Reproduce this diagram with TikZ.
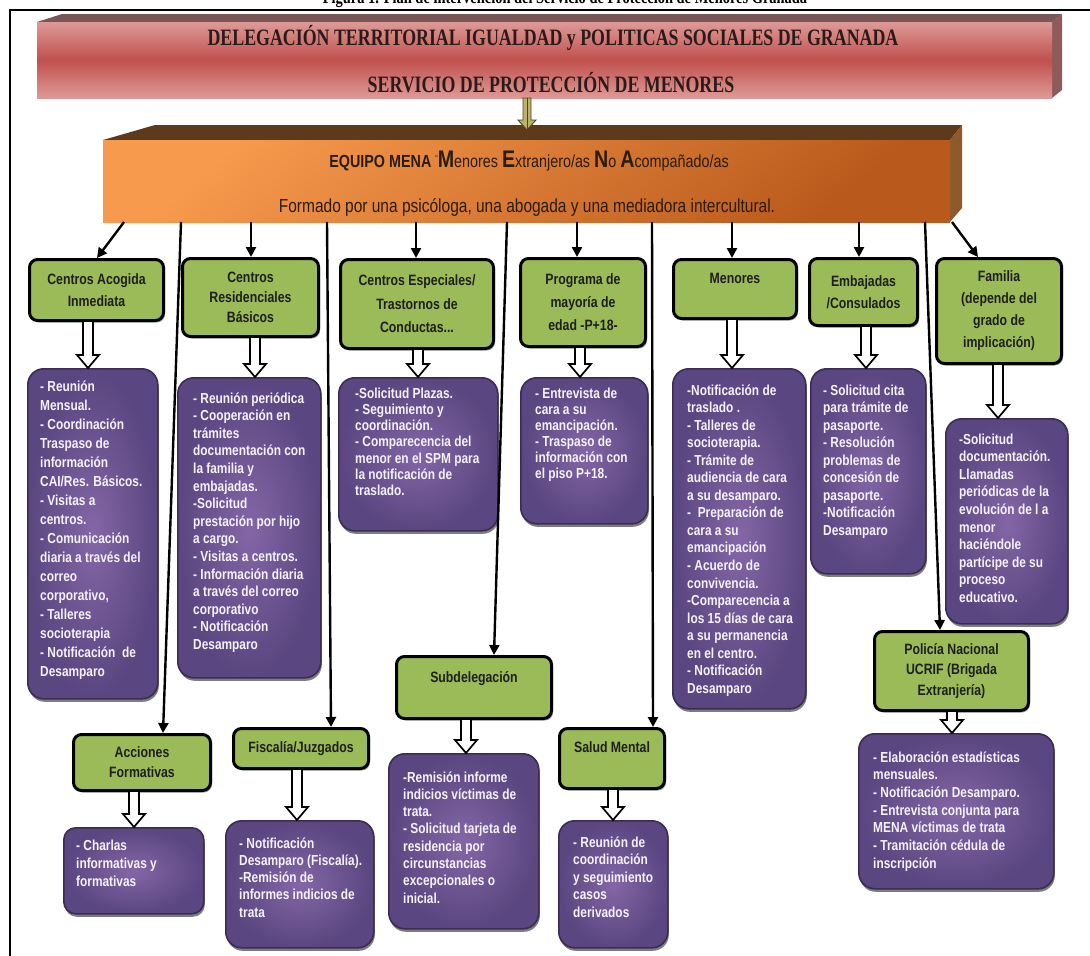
\documentclass[tikz,border=0pt]{standalone}
\usepackage{fontspec}
\setmainfont{Liberation Sans}[FakeStretch=0.82]
\newfontfamily\hdrfont{Liberation Serif}[FakeStretch=0.76]
\usetikzlibrary{shadows,arrows.meta,calc}
\definecolor{grn}{HTML}{9BBB59}
\definecolor{purl}{HTML}{8466A6}
\definecolor{purd}{HTML}{5A4680}
\definecolor{purb}{HTML}{3A2C52}
\definecolor{pinkl}{HTML}{DE9A98}
\definecolor{pinkd}{HTML}{C0504D}
\definecolor{pinktop}{HTML}{7A5656}
\definecolor{pinkside}{HTML}{8F5A5A}
\definecolor{orl}{HTML}{F79A4D}
\definecolor{ord}{HTML}{B95A1C}
\definecolor{ortop}{HTML}{5E3A1C}
\definecolor{orside}{HTML}{8E5A2B}
\definecolor{olv}{HTML}{BDB16C}
\definecolor{olvd}{HTML}{4D4620}
\definecolor{mtxt}{HTML}{2B1B10}
\definecolor{htxt}{HTML}{2A1A1A}
\definecolor{ptxt}{HTML}{F4F2F8}
\newcommand\ptx[2]{\parbox[t]{220pt}{\raggedright\baselineskip=#1pt #2}}
\newcommand\bigL[1]{{\fontsize{24}{24}\selectfont\bfseries #1}}
\newcommand\hollow[3]{%
  \draw[line width=1.7pt, fill=white] let \p1=(#1.south -| #3,0), \p2=(#2.north -| #3,0) in
  (\x1-5pt,\y1) -- (\x1-5pt,\y2+13pt) -- (\x1-11pt,\y2+13pt) -- (\x1,\y2) --
  (\x1+11pt,\y2+13pt) -- (\x1+5pt,\y2+13pt) -- (\x1+5pt,\y1);}
\tikzset{
  gbox/.style={draw=black, line width=3pt, fill=grn, rounded corners=8pt, align=center,
    text=black!88, font=\bfseries\fontsize{15}{22}\selectfont,
    drop shadow={shadow xshift=1.5pt, shadow yshift=-2pt, opacity=.35, fill=black}},
  pbox/.style={draw=purb, line width=1.6pt, rounded corners=16pt, shading=radial,
    inner color=purl, outer color=purd, inner sep=0pt,
    drop shadow={shadow xshift=1pt, shadow yshift=-3pt, opacity=.6, fill=black!85}},
  ptext/.style={text=ptxt, font=\bfseries\fontsize{14.5}{17}\selectfont, inner sep=0pt, anchor=base west},
  conn/.style={line width=2.4pt, -{Triangle[length=10pt,width=10pt]}},
  hdr/.style={text=htxt, font=\hdrfont\bfseries\fontsize{23.5}{25}\selectfont}
}
\begin{document}
\begin{tikzpicture}[x=1pt,y=-1pt]
\useasboundingbox (0,0) rectangle (1090,956);
% clipped caption
\begin{scope}
\clip (0,0) rectangle (1090,8);
\node[font=\hdrfont\bfseries\fontsize{19}{19}\selectfont, anchor=base, inner sep=0] (cap) at (565,3) {Figura 1. Plan de intervención del Servicio de Protección de Menores Granada};
\end{scope}
% frame
\draw[line width=1.2pt] (10,956) -- (10,10) -- (1090,10);
% pink 3D box
\fill[pinktop] (37,22) -- (62,14) -- (1062,14) -- (1052,22) -- cycle;
\fill[pinkside] (1052,22) -- (1062,14) -- (1062,90) -- (1052,98) -- cycle;
\node[top color=pinkl, bottom color=pinkl, middle color=pinkd, minimum width=1015pt, minimum height=76pt, inner sep=0pt, outer sep=0pt, anchor=north west] (dele) at (37,22) {};
\node[hdr] (h1) at (553,38) {DELEGACIÓN TERRITORIAL IGUALDAD y POLITICAS SOCIALES DE GRANADA};
\node[hdr] (h2) at (551,83) {SERVICIO DE PROTECCIÓN DE MENORES};
% orange 3D box
\fill[ortop] (103,140) -- (155,125) -- (962,125) -- (950,140) -- cycle;
\fill[orside] (950,140) -- (962,125) -- (962,208) -- (950,222) -- cycle;
\node[top color=orl, bottom color=ord, shading angle=40, minimum width=847pt, minimum height=82pt, inner sep=0pt, outer sep=0pt, anchor=north west] (mena) at (103,140) {};
\node[text=mtxt, font=\fontsize{17.5}{20}\selectfont] (m1) at (529,161) {{\bfseries EQUIPO MENA} \raisebox{6pt}{\fontsize{9}{9}\selectfont “}\bigL{M}enores \bigL{E}xtranjero/as \bigL{N}o \bigL{A}compañado/as};
\node[text=mtxt, font=\fontsize{18.9}{21}\selectfont] (m2) at (527,207) {Formado por una psicóloga, una abogada y una mediadora intercultural.};
% olive arrow
\draw[olvd, fill=olv, line width=0.9pt] let \p1=(dele.south -| 527,0), \p2=(mena.north -| 527,0) in
  (\x1-4pt,\y1) -- (\x1-4pt,\y2+20pt) -- (\x1-9pt,\y2+20pt) -- (\x1,\y2+10pt) -- (\x1+9pt,\y2+20pt) -- (\x1+4pt,\y2+20pt) -- (\x1+4pt,\y1) -- cycle;
\draw[olvd, line width=0.8pt] (dele.south -| 527,0) -- (mena.north -| 527,0) ++(0,-12);
% green boxes
\node[gbox, minimum width=134pt, minimum height=61pt] (g1) at (96.5,290) {Centros Acogida\\Inmediata};
\node[gbox, minimum width=136pt, minimum height=78pt, font=\bfseries\fontsize{15}{20}\selectfont] (g2) at (250.5,297.5) {Centros\\Residenciales\\Básicos};
\node[gbox, minimum width=153pt, minimum height=89pt, font=\bfseries\fontsize{15}{23.5}\selectfont] (g3) at (417,304) {Centros Especiales/\\Trastornos de\\Conductas...};
\node[gbox, minimum width=125pt, minimum height=88pt, font=\bfseries\fontsize{15}{23}\selectfont] (g4) at (583,302.5) {Programa de\\mayoría de\\edad -P+18-};
\node[gbox, minimum width=123pt, minimum height=59pt] (g5) at (735,289) {Menores\\[0pt]\mbox{}};
\node[gbox, minimum width=108pt, minimum height=67pt] (g6) at (863.5,292) {Embajadas\\/Consulados};
\node[gbox, minimum width=125pt, minimum height=105pt] (g7) at (999,311) {Familia\\(depende del\\grado de\\implicación)};
\node[gbox, minimum width=137pt, minimum height=56pt, font=\bfseries\fontsize{15}{20}\selectfont] (g8) at (142,762.5) {Acciones\\Formativas};
\node[gbox, minimum width=135pt, minimum height=40pt] (g9) at (301,748.5) {Fiscalía/Juzgados};
\node[gbox, minimum width=155pt, minimum height=62pt] (g10) at (474,687.5) {Subdelegación\\[0pt]\mbox{}};
\node[gbox, minimum width=105pt, minimum height=60pt] (g11) at (612,758.5) {Salud Mental\\[0pt]\mbox{}};
\node[gbox, minimum width=154pt, minimum height=79pt, font=\bfseries\fontsize{15}{20.5}\selectfont] (g12) at (951.5,671) {Policía Nacional\\UCRIF (Brigada\\Extranjería)};
% purple boxes
\node[pbox, minimum width=130pt, minimum height=330pt, anchor=north west] (p1) at (27,368) {};
\node[pbox, minimum width=143pt, minimum height=300pt, anchor=north west] (p2) at (177,377) {};
\node[pbox, minimum width=159pt, minimum height=153pt, anchor=north west] (p3) at (338,377) {};
\node[pbox, minimum width=127pt, minimum height=146pt, anchor=north west] (p4) at (520,377) {};
\node[pbox, minimum width=133pt, minimum height=340pt, anchor=north west] (p5) at (672,368) {};
\node[pbox, minimum width=115pt, minimum height=205pt, anchor=north west] (p6) at (810,368) {};
\node[pbox, minimum width=122pt, minimum height=205pt, anchor=north west] (p7) at (945,418) {};
\node[pbox, minimum width=195pt, minimum height=155pt, anchor=north west] (p8) at (858,733) {};
\node[pbox, minimum width=140pt, minimum height=86pt, anchor=north west, rounded corners=12pt] (p9) at (63,827) {};
\node[pbox, minimum width=148pt, minimum height=127pt, anchor=north west] (p10) at (225,820) {};
\node[pbox, minimum width=150pt, minimum height=175pt, anchor=north west] (p11) at (388,753) {};
\node[pbox, minimum width=109pt, minimum height=127pt, anchor=north west] (p12) at (558,820) {};
% purple texts
\node[ptext] (t1) at (40,391) {\ptx{19}{- Reunión\\Mensual.\\- Coordinación\\Traspaso de\\información\\CAI/Res. Básicos.\\- Visitas a\\centros.\\- Comunicación\\diaria a través del\\correo\\corporativo,\\- Talleres\\socioterapia\\- Notificación~ de\\Desamparo}};
\node[ptext] (t2) at (193,403) {\ptx{17.6}{- Reunión periódica\\- Cooperación en\\trámites\\documentación con\\la familia y\\embajadas.\\-Solicitud\\prestación por hijo\\a cargo.\\- Visitas a centros.\\- Información diaria\\a través del correo\\corporativo\\- Notificación\\Desamparo}};
\node[ptext] (t3) at (355,398) {\ptx{16.3}{-Solicitud Plazas.\\- Seguimiento y\\coordinación.\\- Comparecencia del\\menor en el SPM para\\la notificación de\\traslado.}};
\node[ptext] (t4) at (535,398) {\ptx{16}{- Entrevista de\\cara a su\\emancipación.\\- Traspaso de\\información con\\el piso P+18.}};
\node[ptext] (t5) at (687,395) {\ptx{17.55}{-Notificación de\\traslado .\\- Talleres de\\socioterapia.\\- Trámite de\\audiencia de cara\\a su desamparo.\\-~ Preparación de\\cara a su\\emancipación\\- Acuerdo de\\convivencia.\\-Comparecencia a\\los 15 días de cara\\a su permanencia\\en el centro.\\- Notificación\\Desamparo}};
\node[ptext] (t6) at (823,395) {\ptx{17.5}{- Solicitud cita\\para trámite de\\pasaporte.\\- Resolución\\problemas de\\concesión de\\pasaporte.\\-Notificación\\Desamparo}};
\node[ptext] (t7) at (959,444) {\ptx{17.6}{-Solicitud\\documentación.\\Llamadas\\periódicas de la\\evolución de l a\\menor\\haciéndole\\partícipe de su\\proceso\\educativo.}};
\node[ptext] (t8) at (873,762) {\ptx{17.7}{- Elaboración estadísticas\\mensuales.\\- Notificación Desamparo.\\- Entrevista conjunta para\\MENA víctimas de trata\\- Tramitación cédula de\\inscripción}};
\node[ptext] (t9) at (76,850) {\ptx{18}{- Charlas\\informativas y\\formativas}};
\node[ptext] (t10) at (239,848) {\ptx{17.3}{- Notificación\\Desamparo (Fiscalía).\\-Remisión de\\informes indicios de\\trata}};
\node[ptext] (t11) at (403,782) {\ptx{17.3}{-Remisión informe\\indicios víctimas de\\trata.\\- Solicitud tarjeta de\\residencia por\\circunstancias\\excepcionales o\\inicial.}};
\node[ptext] (t12) at (573,847) {\ptx{17.5}{- Reunión de\\coordinación\\y seguimiento\\casos\\derivados}};
% hollow arrows
\hollow{g1}{p1}{88}
\hollow{g2}{p2}{255}
\hollow{g3}{p3}{418}
\hollow{g4}{p4}{580}
\hollow{g5}{p5}{732}
\hollow{g6}{p6}{866}
\hollow{g7}{p7}{998}
\hollow{g8}{p9}{134}
\hollow{g9}{p10}{297}
\hollow{g10}{p11}{466}
\hollow{g11}{p12}{613}
\hollow{g12}{p8}{952}
% connectors
\draw[conn] (mena.south -| 124,0) -- (g1.north -| 97,0);
\draw[conn] (mena.south -| 181,0) -- (g8.north -| 163,0);
\draw[conn] (mena.south -| 251,0) -- (g2.north -| 251,0);
\draw[conn] (mena.south -| 327,0) -- (g9.north -| 331,0);
\draw[conn] (mena.south -| 416,0) -- (g3.north -| 416,0);
\draw[conn] (mena.south -| 507,0) -- (g10.north -| 494,0);
\draw[conn] (mena.south -| 577,0) -- (g4.north -| 577,0);
\draw[conn] (mena.south -| 652,0) -- (g11.north -| 653,0);
\draw[conn] (mena.south -| 732,0) -- (g5.north -| 732,0);
\draw[conn] (mena.south -| 859,0) -- (g6.north -| 859,0);
\draw[conn] (mena.south -| 925,0) -- (g12.north -| 940,0);
\draw[conn] (mena.south -| 952,0) -- (g7.north -| 978,0);
\end{tikzpicture}
\end{document}
